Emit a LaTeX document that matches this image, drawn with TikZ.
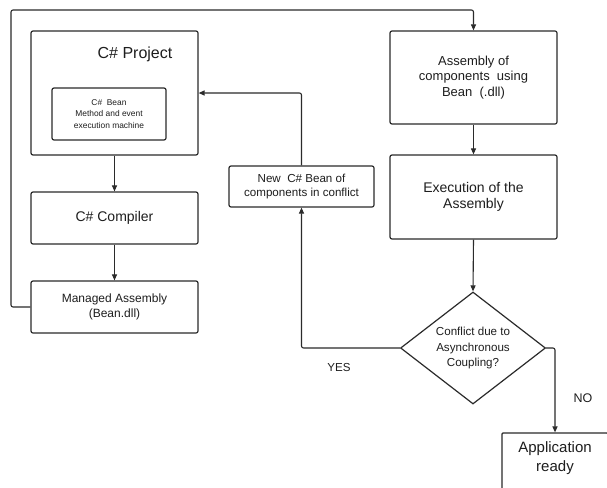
\documentclass[tikz,border=0pt]{standalone}
\usepackage{fontspec}
\setmainfont{Liberation Sans}
\usetikzlibrary{arrows.meta,shapes.geometric}
\definecolor{linec}{HTML}{2B2B2B}
\definecolor{txtc}{HTML}{1E1E1E}
\begin{document}
\begin{tikzpicture}[x=1pt,y=-1pt,
 box/.style={draw=linec, line width=1.2pt, rounded corners=2pt, inner sep=0pt, text=txtc, align=center},
 flow/.style={draw=linec, line width=1.1pt, rounded corners=2pt, -{Triangle[length=6pt,width=5pt]}},
 lbl/.style={align=center, text=txtc, inner sep=0pt}]
\clip (0,0) rectangle (607,487);
\fill[white] (0,0) rectangle (607,487);
% left column
\node[box, minimum width=167pt, minimum height=124pt] (project) at (114.5,93) {};
\node[lbl, font=\fontsize{16}{19}\selectfont] (ptitle) at (135,54) {C\# Project};
\node[box, minimum width=114pt, minimum height=52pt, font=\fontsize{8.4}{11.7}\selectfont] (bean) at (109,114) {C\#\ \ Bean\\Method and event\\execution machine};
\node[box, minimum width=167pt, minimum height=52pt, font=\fontsize{14}{17}\selectfont] (compiler) at (114.5,218) {C\# Compiler};
\node[box, minimum width=167pt, minimum height=52pt, font=\fontsize{12}{15}\selectfont] (managed) at (114.5,307) {Managed Assembly\\(Bean.dll)};
% middle
\node[box, minimum width=145pt, minimum height=41pt, font=\fontsize{11.6}{14.5}\selectfont] (newbean) at (301.5,186.5) {New\ \ C\# Bean of\\components in conflict};
% right column
\node[box, minimum width=167pt, minimum height=93pt, font=\fontsize{13}{15.5}\selectfont] (assembly) at (473.5,77.5) {Assembly of\\components\ \ using\\Bean\ \ (.dll)};
\node[box, minimum width=167pt, minimum height=84pt, font=\fontsize{14}{16}\selectfont] (execution) at (473.5,197) {Execution of the\\Assembly};
\node[draw=linec, line width=1.2pt, diamond, aspect=1.3, inner sep=0pt, minimum width=145pt, minimum height=112pt, align=center, text=txtc, font=\fontsize{11.6}{15.6}\selectfont] (dia) at (473,348) {Conflict due to\\Asynchronous\\Coupling?};
\node[box, rounded corners=1pt, minimum width=106pt, minimum height=62pt] (app) at (555,464) {};
\node[lbl, font=\fontsize{15}{19}\selectfont] (apptext) at (555,458) {Application\\ready};
% labels
\node[lbl, font=\fontsize{11.6}{14}\selectfont] (yes) at (339,368) {YES};
\node[lbl, font=\fontsize{12.5}{15}\selectfont] (no) at (583,398) {NO};
% connectors
\draw[flow] (project.south) -- (compiler.north);
\draw[flow] (compiler.south) -- (managed.north);
\draw[flow] (managed.west) -| (11,10) -| (assembly.north);
\draw[flow] (assembly.south) -- (execution.north);
\draw[flow] (execution.south) -- (dia.north);
\draw[flow] (dia.west) -| (newbean.south);
\draw[flow] (newbean.north) |- (project.east);
\draw[flow] (dia.east) -| (app.north);
\end{tikzpicture}
\end{document}
